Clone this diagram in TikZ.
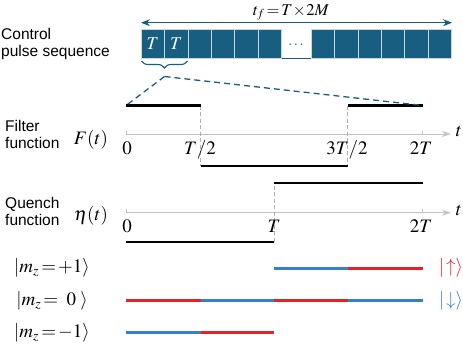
\documentclass[tikz,border=0pt]{standalone}
\usepackage{mathptmx}
\usepackage{fontspec}
\setsansfont{Liberation Sans}
\usetikzlibrary{arrows.meta,decorations.pathreplacing}
\definecolor{barblue}{RGB}{24,94,128}
\definecolor{sred}{RGB}{232,32,42}
\definecolor{sblue}{RGB}{58,128,190}
\definecolor{axgray}{RGB}{195,195,195}
\definecolor{dgray}{RGB}{175,175,175}
\tikzset{
  cell/.style={rectangle, fill=barblue, draw=white!75!barblue, line width=0.8pt, minimum width=23.45pt, minimum height=29pt, inner sep=0pt, text=white, font=\fontsize{18}{18}\selectfont},
  lbl/.style={font=\sffamily\fontsize{15.5}{17}\selectfont, align=left, anchor=west, inner sep=0pt},
  mlbl/.style={font=\fontsize{19}{19}\selectfont, inner sep=0pt},
  axis/.style={axgray, line width=1pt, -{Stealth[length=9pt,width=6pt]}},
  sig/.style={black, line width=2.2pt},
  vdash/.style={dgray, line width=0.8pt, dash pattern=on 4pt off 2.5pt},
  bdash/.style={barblue, line width=1.3pt, dash pattern=on 6pt off 4pt},
  rseg/.style={sred, line width=2.6pt},
  bseg/.style={sblue, line width=2.6pt},
}
\begin{document}
\begin{tikzpicture}[x=1pt,y=-1pt]
\useasboundingbox (0,0) rectangle (463,346);
% control pulse sequence
\node[lbl] (cps) at (1,44) {Control\\pulse sequence};
\foreach \i in {0,...,5} \node[cell] (a\i) at ({141+23.45*\i+11.725},43.8) {};
\foreach \i in {0,...,5} \node[cell] (b\i) at ({311+23.45*\i+11.725},43.8) {};
\node[cell] at (a0) {$T$};
\node[cell] at (a1) {$T$};
\node[text=barblue, font=\fontsize{15}{15}\selectfont] (dots) at (296,45.5) {$\cdots$};
\draw[barblue, line width=0.8pt] (a5.south east) -- (b0.south west);
\coordinate (arL) at (141,22.7);
\coordinate (arR) at (452,22.7);
\draw[barblue, line width=1.3pt, {Stealth[length=9pt,width=7pt]}-{Stealth[length=9pt,width=7pt]}] (arL) -- (arR);
\node[font=\fontsize{16.5}{16.5}\selectfont, inner sep=0pt, anchor=base] (tf) at (291,15) {$t_f\!=\!T\!\times\!2M$};
\coordinate (brL) at (141.5,61);
\coordinate (brR) at (187.5,61);
\draw[barblue, line width=1.1pt, decorate, decoration={brace, mirror, amplitude=7pt}] (brL) -- (brR);
\coordinate (tip) at (164.5,76.5);
% Filter function
\node[lbl] (ff) at (5,134) {Filter\\function};
\node[mlbl] (Ft) at (91,140) {$F(t)$};
\coordinate (f0) at (126,134);
\coordinate (fe) at (451,134);
\draw[axis] (f0) -- (fe);
\draw[axgray, line width=0.8pt] (126,130.5) -- (f0);
\draw[axgray, line width=0.8pt] (422.7,130.5) -- (422.7,134);
\node[mlbl] (ft) at (459,131) {$t$};
\coordinate (F1) at (126,105.5);
\coordinate (F2) at (200.7,105.5);
\coordinate (F3) at (200.7,166);
\coordinate (F4) at (347.7,166);
\coordinate (F5) at (347.7,105.5);
\coordinate (F6) at (422.7,105.5);
\draw[vdash] (F2) -- (F3);
\draw[vdash] (F5) -- (F4);
\draw[sig] (F1) -- (F2);
\draw[sig] (F3) -- (F4);
\draw[sig] (F5) -- (F6);
\node[mlbl, anchor=base] (l0) at (127,154) {$0$};
\node[mlbl, anchor=base] (l1) at (200,154) {$T/2$};
\node[mlbl, anchor=base] (l2) at (347,154) {$3T/2$};
\node[mlbl, anchor=base] (l3) at (421,154) {$2T$};
\draw[bdash] (tip) -- (F1);
\draw[bdash] (tip) -- (F6);
% Quench function
\node[lbl] (qf) at (5,211) {Quench\\function};
\node[mlbl] (eta) at (91,216) {$\eta(t)$};
\coordinate (q0) at (126,212.7);
\coordinate (qe) at (451,212.7);
\draw[axis] (q0) -- (qe);
\draw[axgray, line width=0.8pt] (126,209.2) -- (q0);
\draw[axgray, line width=0.8pt] (422.7,209.2) -- (422.7,212.7);
\node[mlbl] (qt) at (459,210) {$t$};
\coordinate (Q1) at (126,241.7);
\coordinate (Q2) at (274,241.7);
\coordinate (Q3) at (274,183.3);
\coordinate (Q4) at (422.7,183.3);
\draw[vdash] (Q2) -- (Q3);
\draw[sig] (Q1) -- (Q2);
\draw[sig] (Q3) -- (Q4);
\node[mlbl, anchor=base] (m0) at (127,232) {$0$};
\node[mlbl, anchor=base] (m1) at (274,232) {$T$};
\node[mlbl, anchor=base] (m2) at (421,232) {$2T$};
% states
\node[mlbl] (sp) at (52,268.3) {$|m_z\!=\!+1\rangle$};
\node[mlbl] (s0) at (52,300.7) {$|m_z\!=\;0\;\rangle$};
\node[mlbl] (sm) at (52,332.7) {$|m_z\!=\!-1\rangle$};
\node[mlbl, text=sred] (up) at (451,268.3) {$|\!\uparrow\rangle$};
\node[mlbl, text=sblue] (dn) at (451,300.7) {$|\!\downarrow\rangle$};
\coordinate (p1) at (274,268.3);
\coordinate (p2) at (347.7,268.3);
\coordinate (p3) at (422.7,268.3);
\draw[bseg] (p1) -- (p2);
\draw[rseg] (p2) -- (p3);
\coordinate (z0) at (126,300.7);
\coordinate (z1) at (200.7,300.7);
\coordinate (z2) at (274,300.7);
\coordinate (z3) at (347.7,300.7);
\coordinate (z4) at (422.7,300.7);
\draw[rseg] (z0) -- (z1);
\draw[bseg] (z1) -- (z2);
\draw[rseg] (z2) -- (z3);
\draw[bseg] (z3) -- (z4);
\coordinate (n0) at (126,332.7);
\coordinate (n1) at (200.7,332.7);
\coordinate (n2) at (274,332.7);
\draw[bseg] (n0) -- (n1);
\draw[rseg] (n1) -- (n2);
\end{tikzpicture}
\end{document}
